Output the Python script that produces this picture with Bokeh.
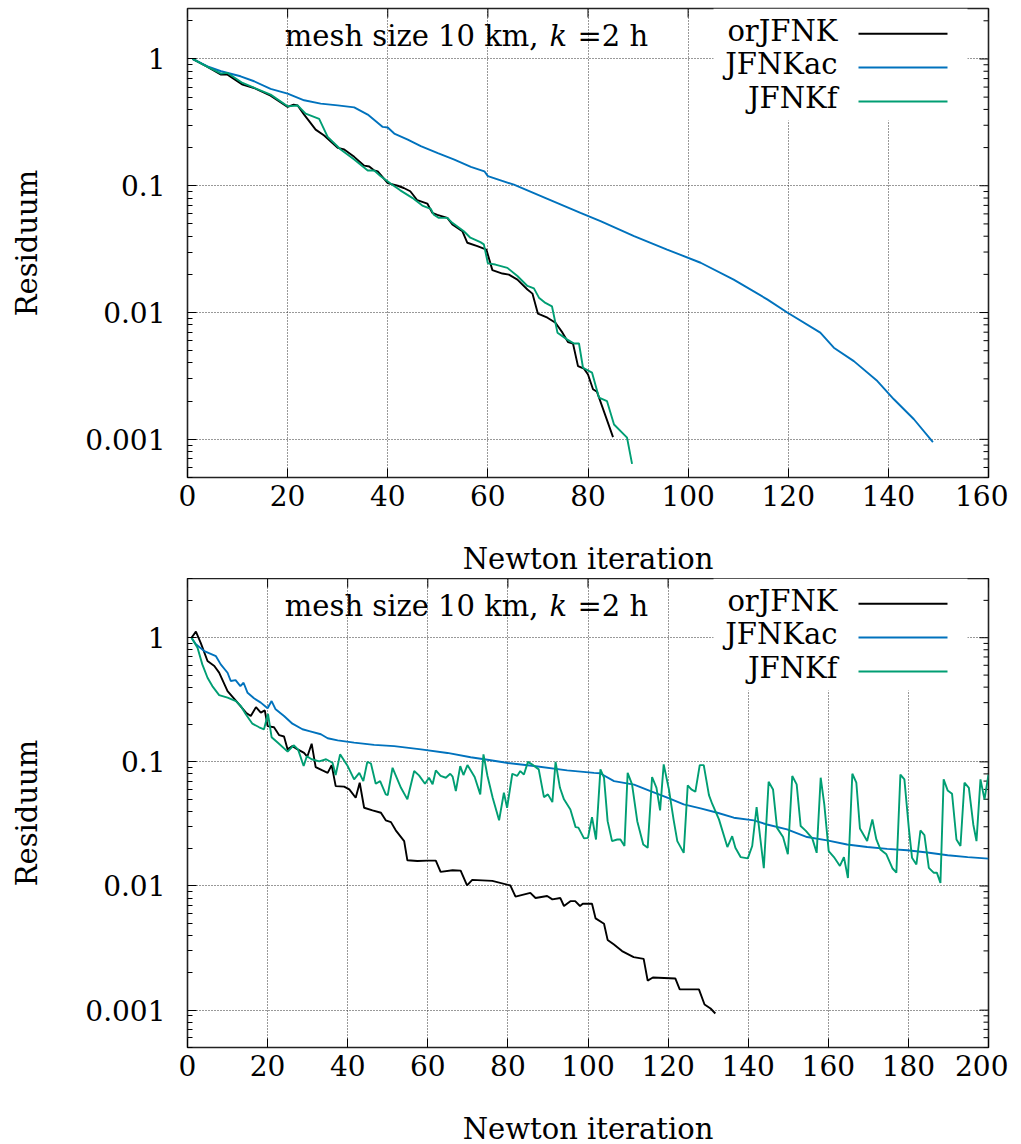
from math import log10
from bokeh.plotting import figure
from bokeh.models import FixedTicker, Label, BoxAnnotation
from bokeh.layouts import column
from bokeh.embed import file_html
from bokeh.resources import INLINE

FONT = "DejaVu Serif"
SERIES = ["orJFNK", "JFNKac", "JFNKf"]
COLORS = ["#000000", "#0072bd", "#009e73"]
Y_MAJOR = [0.001, 0.01, 0.1, 1]
Y_LABELS = ["0.001", "0.01", "0.1", "1"]
TITLE_LEFT = "mesh size 10 km,"
TITLE_K = "k"
TITLE_RIGHT = "=2 h"
X_LABEL = "Newton iteration"
Y_LABEL = "Residuum"

# ---------------- top panel ----------------
top_or_x = [1, 4, 6.7, 8, 11, 13.3, 16.6, 20, 21.2, 22, 23.3, 25.6, 27.3, 30, 31.3, 33.3, 35.3, 36.3, 37.3, 38,
            40, 42, 43.2, 44.5, 45.9, 47.9, 48.9, 49.9, 51.9, 52.9, 54.9, 55.9, 57.9, 59.7, 60.9, 62.9, 64.2,
            65.9, 67.9, 68.9, 70, 71.9, 73.5, 74.9, 76, 77, 78, 79.2, 80, 81, 81.8, 85]
top_or_y = [1.0, 0.865, 0.752, 0.752, 0.627, 0.59, 0.514, 0.419, 0.436, 0.43, 0.364, 0.277, 0.249, 0.199, 0.193,
            0.169, 0.144, 0.142, 0.132, 0.13, 0.105, 0.1, 0.096, 0.0905, 0.0769, 0.0724, 0.0611, 0.059, 0.0558,
            0.0495, 0.0438, 0.0355, 0.0334, 0.0314, 0.0216, 0.0203, 0.0199, 0.0182, 0.0152, 0.0141, 0.0098,
            0.0091, 0.0083, 0.00694, 0.00585, 0.0057, 0.00378, 0.00361, 0.00325, 0.00248, 0.00237, 0.00104]

top_ac_x = [1, 4, 6.7, 10.6, 13.3, 16.6, 20, 23.3, 26.6, 30, 33.3, 36, 39, 40, 41.3, 44, 46.6, 50, 53.3, 56.6,
            59.3, 60, 65.2, 71.9, 78.5, 82.5, 89.2, 95.8, 102.5, 109.1, 115.8, 119.8, 126.4, 129.1, 133.1,
            137.8, 141.1, 145.1, 148.9]
top_ac_y = [1.0, 0.875, 0.80, 0.73, 0.667, 0.58, 0.533, 0.472, 0.444, 0.43, 0.415, 0.364, 0.291, 0.288, 0.258,
            0.231, 0.205, 0.181, 0.161, 0.141, 0.13, 0.119, 0.102, 0.0789, 0.0611, 0.0525, 0.04, 0.0314,
            0.0247, 0.0182, 0.0127, 0.01, 0.00694, 0.00528, 0.00414, 0.00288, 0.00207, 0.00144, 0.00095]

top_f_x = [1, 4, 6.7, 8, 11, 16.6, 20, 22, 23.6, 26.3, 28, 30.6, 33.3, 36, 37.3, 38.6, 40.9, 42.5, 44.9, 46.9,
           48.6, 49.2, 50.2, 51.9, 52.9, 55.2, 56.5, 58.5, 59.2, 60, 61.5, 63.9, 65.9, 67.9, 69.2, 70.2, 71.5,
           72.8, 73.9, 75.8, 77.2, 78.2, 79, 80.8, 82.2, 83.8, 85.2, 87.8, 88.8]
top_f_y = [1.0, 0.865, 0.766, 0.776, 0.647, 0.523, 0.423, 0.43, 0.371, 0.337, 0.243, 0.193, 0.161, 0.132, 0.132,
           0.119, 0.102, 0.092, 0.0803, 0.0698, 0.0657, 0.059, 0.0558, 0.0558, 0.051, 0.0438, 0.0389, 0.0359,
           0.0345, 0.0244, 0.0239, 0.0225, 0.0194, 0.0162, 0.0155, 0.0131, 0.0119, 0.0112, 0.00694, 0.00614,
           0.0057, 0.0057, 0.00367, 0.00336, 0.00213, 0.002, 0.00131, 0.00103, 0.00064]

# ---------------- bottom panel ----------------
bot_or_x = [1, 2.1, 3.3, 5, 6.7, 7.9, 10, 12.5, 14.6, 15.8, 17.1, 18.3, 19.3, 20, 21.6, 22.9, 24.1, 25, 26.2,
            27.5, 29.1, 29.9, 31, 32, 33.7, 35, 36, 37, 39.1, 40.4, 42, 43, 44.1, 46.2, 48.3, 49.5, 50.8, 52,
            54.1, 54.9, 57.4, 59.9, 62, 63.2, 66.2, 68.2, 69.8, 71.1, 76.1, 80.6, 81.9, 85.6, 86.9, 89.8, 91.1,
            93.1, 94, 95.6, 96.8, 98, 98.7, 101, 101.9, 104, 104.9, 106.4, 108.5, 111.4, 113.9, 114.9, 116.2,
            121.8, 122.9, 127.7, 129.1, 130.6, 131.8]
bot_or_y = [1.0, 1.12, 0.91, 0.649, 0.592, 0.523, 0.372, 0.30, 0.249, 0.234, 0.276, 0.249, 0.26, 0.194, 0.19,
            0.164, 0.16, 0.126, 0.134, 0.126, 0.118, 0.11, 0.14, 0.0908, 0.0853, 0.0816, 0.0942, 0.0638, 0.0632,
            0.06, 0.0514, 0.0679, 0.0427, 0.0407, 0.0389, 0.0338, 0.0327, 0.0281, 0.023, 0.0161, 0.0159, 0.016,
            0.016, 0.013, 0.0134, 0.0133, 0.0101, 0.0112, 0.011, 0.0101, 0.0082, 0.0088, 0.008, 0.0083, 0.0078,
            0.008, 0.0069, 0.00755, 0.00755, 0.0069, 0.0072, 0.0072, 0.00548, 0.00496, 0.00368, 0.00339,
            0.00299, 0.00267, 0.00259, 0.00173, 0.00183, 0.0018, 0.00147, 0.00147, 0.00111, 0.00103, 0.00094]

bot_ac_x = [1, 2.1, 4.2, 7.1, 8.3, 10, 10.8, 12, 13.2, 14, 15, 16.6, 18.3, 20, 21, 22, 24.1, 26.2, 28.7, 30.4,
            33.3, 35, 37.5, 41.6, 46.6, 51.6, 58.3, 64.9, 70.7, 74.9, 80, 86.5, 94.8, 101.5, 103, 106.5, 111.5,
            115.6, 119.8, 123.9, 128.1, 132.3, 136.4, 141.4, 144.7, 149.7, 154.7, 159.7, 164.7, 169.7, 174.7,
            179.7, 184.7, 189.8, 194.8, 200]
bot_ac_y = [1.0, 0.885, 0.78, 0.71, 0.61, 0.522, 0.448, 0.455, 0.408, 0.434, 0.36, 0.325, 0.3, 0.27, 0.309,
            0.265, 0.234, 0.203, 0.183, 0.177, 0.167, 0.155, 0.149, 0.143, 0.137, 0.134, 0.126, 0.118, 0.109,
            0.104, 0.098, 0.0925, 0.0854, 0.0816, 0.081, 0.07, 0.0655, 0.0582, 0.0514, 0.0455, 0.0422, 0.0389,
            0.0355, 0.0338, 0.0313, 0.0286, 0.0248, 0.0233, 0.0216, 0.0206, 0.0199, 0.0194, 0.0186, 0.0177,
            0.0171, 0.0166]

bot_f_x = [1, 2.5, 3.7, 5, 6.2, 7.9, 10, 12.1, 13.3, 14.6, 16.2, 17.9, 19.1, 20.1, 21, 22.5, 25, 26.5, 27.6, 29,
           29.8, 31, 32.9, 34.6, 36.2, 37, 38.1, 40, 41.6, 42.9, 43.9, 44.9, 45.8, 47, 48.1, 49.5, 50, 51.2,
           53.3, 54.9, 56.6, 57.8, 59.3, 60.3, 61.2, 62, 63.2, 64.5, 65.6, 66.2, 67, 68.1, 68.9, 69.9, 71.7,
           73.1, 73.9, 74.9, 76.2, 77.8, 79, 79.8, 81.1, 82.3, 83.1, 84, 85, 86, 87.7, 89, 90, 91.1, 91.9, 93,
           94, 95.6, 96.9, 97.6, 99, 100, 101, 102, 103.1, 104, 104.9, 106, 107.3, 108.1, 109.1, 109.9, 111,
           112.3, 113.8, 114.9, 116, 117.1, 118, 118.9, 120.2, 121.4, 122.3, 123.9, 124.9, 125.8, 126.8, 127.9,
           128.9, 130.2, 131, 132.7, 134.8, 136, 136.8, 138.1, 139.9, 141, 142.1, 143.9, 145.1, 146.2, 147.2,
           148.7, 149.9, 151, 152.1, 153.1, 154.4, 156, 157.1, 158.1, 159, 160.1, 161.4, 162.9, 163.9, 164.9,
           166, 167, 167.9, 169.7, 171, 172, 173, 174.5, 176, 177, 178, 179, 180.1, 180.9, 182, 183, 184,
           185.1, 186.3, 187.1, 188, 188.8, 189.8, 190.9, 192, 193, 194, 195.1, 196.2, 197, 198, 199, 200]
bot_f_y = [1.0, 0.83, 0.61, 0.476, 0.408, 0.345, 0.329, 0.309, 0.282, 0.241, 0.203, 0.19, 0.183, 0.244, 0.158,
           0.143, 0.121, 0.136, 0.126, 0.0925, 0.111, 0.105, 0.101, 0.105, 0.0984, 0.0783, 0.115, 0.0925,
           0.0723, 0.0816, 0.07, 0.1, 0.097, 0.0667, 0.07, 0.0547, 0.054, 0.0896, 0.0618, 0.0499, 0.0843,
           0.0778, 0.0667, 0.0745, 0.066, 0.0854, 0.077, 0.0745, 0.0802, 0.076, 0.0582, 0.0925, 0.0783, 0.0942,
           0.0755, 0.0547, 0.115, 0.077, 0.0514, 0.0338, 0.0564, 0.0427, 0.0802, 0.077, 0.0843, 0.079, 0.1,
           0.0955, 0.087, 0.052, 0.0547, 0.0474, 0.1, 0.0618, 0.0499, 0.0414, 0.0298, 0.0295, 0.0242, 0.0244,
           0.0359, 0.0237, 0.087, 0.0745, 0.0333, 0.023, 0.0237, 0.0237, 0.021, 0.0816, 0.0659, 0.0333, 0.0216,
           0.0203, 0.0755, 0.0618, 0.0407, 0.0955, 0.06, 0.0338, 0.023, 0.0185, 0.0646, 0.06, 0.0574, 0.0942,
           0.0942, 0.054, 0.046, 0.0344, 0.0206, 0.0252, 0.0203, 0.0171, 0.0167, 0.021, 0.0433, 0.0139, 0.0691,
           0.06, 0.0294, 0.0248, 0.018, 0.077, 0.0659, 0.0304, 0.0278, 0.0242, 0.0185, 0.0745, 0.0455, 0.0191,
           0.0171, 0.0145, 0.0171, 0.0116, 0.0802, 0.0679, 0.0291, 0.023, 0.0344, 0.0237, 0.0197, 0.018, 0.0139,
           0.0128, 0.079, 0.0723, 0.0294, 0.0169, 0.0149, 0.028, 0.0257, 0.014, 0.0128, 0.0128, 0.0106, 0.0723,
           0.0589, 0.0553, 0.0237, 0.021, 0.0679, 0.0618, 0.0313, 0.023, 0.0723, 0.0499, 0.079]

FRAME_W, FRAME_H = 801, 469


def make_panel(xmax, ymin, ymax, series, border_top, border_bottom):
    p = figure(frame_width=FRAME_W, frame_height=FRAME_H, x_range=(0, xmax), y_range=(ymin, ymax),
               y_axis_type="log", output_backend="svg", toolbar_location=None,
               min_border_left=187, min_border_right=20, min_border_top=border_top,
               min_border_bottom=border_bottom, background_fill_color="white", border_fill_color="white")

    span = log10(ymax) - log10(ymin)

    def x_at(px):  # px measured from the frame's left edge
        return px / FRAME_W * xmax

    def y_at(py):  # py measured down from the frame's top edge
        return 10 ** (log10(ymax) - py / FRAME_H * span)

    xticks = list(range(0, xmax + 1, 20))
    minor = [m * 10.0 ** e for e in range(-4, 1) for m in range(2, 10) if ymin <= m * 10.0 ** e <= ymax]
    xt = FixedTicker(ticks=xticks)
    yt = FixedTicker(ticks=Y_MAJOR, minor_ticks=minor)

    xa, ya = p.below[0], p.left[0]
    xa.ticker = xt
    ya.ticker = yt
    xa.minor_tick_line_color = None
    ya.minor_tick_in = 5
    ya.minor_tick_out = 0
    ya.minor_tick_line_color = "black"
    for ax in (xa, ya):
        ax.axis_line_color = None
        ax.major_tick_in = 9
        ax.major_tick_out = 0
        ax.major_tick_line_color = "black"
        ax.major_label_text_font = FONT
        ax.major_label_text_font_size = "28px"
        ax.major_label_text_color = "black"
        ax.axis_label_text_font = FONT
        ax.axis_label_text_font_size = "29px"
        ax.axis_label_text_font_style = "normal"
        ax.axis_label_text_color = "black"
    ya.major_label_overrides = {v: s for v, s in zip(Y_MAJOR, Y_LABELS)}
    ya.major_label_standoff = 22
    xa.major_label_standoff = 7
    xa.axis_label = X_LABEL
    ya.axis_label = Y_LABEL
    xa.axis_label_standoff = 33
    ya.axis_label_standoff = 38

    p.outline_line_color = "#222222"
    p.outline_line_width = 1.6
    p.grid.grid_line_color = "#333333"
    p.grid.grid_line_dash = "1 2"
    p.grid.grid_line_width = 1

    # mirrored ticks on the top and right edges (gnuplot style)
    p.segment(x0=xticks, y0=[ymax] * len(xticks), x1=xticks, y1=[y_at(9)] * len(xticks),
              line_color="black", line_width=1)
    p.segment(x0=[xmax] * len(Y_MAJOR), y0=Y_MAJOR, x1=[x_at(FRAME_W - 9)] * len(Y_MAJOR), y1=Y_MAJOR,
              line_color="black", line_width=1)
    p.segment(x0=[xmax] * len(minor), y0=minor, x1=[x_at(FRAME_W - 5)] * len(minor), y1=minor,
              line_color="black", line_width=1)

    for (xs, ys), name, col in zip(series, SERIES, COLORS):
        p.line(xs, ys, line_color=col, line_width=1.9)

    # title inside the frame
    base_y = y_at(27)
    for txt, px, align, style in [(TITLE_LEFT, 351, "right", "normal"), (TITLE_K, 362, "left", "italic"),
                                  (TITLE_RIGHT, 390, "left", "normal")]:
        p.add_layout(Label(x=x_at(px), y=base_y, text=txt, text_align=align, text_baseline="alphabetic",
                           text_font=FONT, text_font_style=style, text_font_size="29px",
                           text_color="black"))

    # gnuplot-style key: text on the left, line sample on the right, opaque box
    p.add_layout(BoxAnnotation(left=x_at(526), right=x_at(780), bottom=y_at(112), top=ymax,
                               fill_color="white", fill_alpha=1.0, line_color=None, line_alpha=0))
    for i, (name, col) in enumerate(zip(SERIES, COLORS)):
        ly = 25.3 + 33.8 * i
        by = 22.5 + 33.3 * i
        p.add_layout(Label(x=x_at(650), y=y_at(by), text=name, text_align="right",
                           text_baseline="alphabetic", text_font=FONT, text_font_size="29px",
                           text_color="black"))
        p.add_layout(BoxAnnotation(left=x_at(671), right=x_at(760), bottom=y_at(ly + 1), top=y_at(ly - 1),
                                   fill_color=col, fill_alpha=1.0, line_color=None, line_alpha=0))
    return p


p1 = make_panel(160, 5e-4, 2.5, [(top_or_x, top_or_y), (top_ac_x, top_ac_y), (top_f_x, top_f_y)], 8, 100)
p2 = make_panel(200, 5e-4, 3.0, [(bot_or_x, bot_or_y), (bot_ac_x, bot_ac_y), (bot_f_x, bot_f_y)], 0, 95)

layout = column(p1, p2, spacing=0)
open("out.html", "w").write(file_html(layout, INLINE))
